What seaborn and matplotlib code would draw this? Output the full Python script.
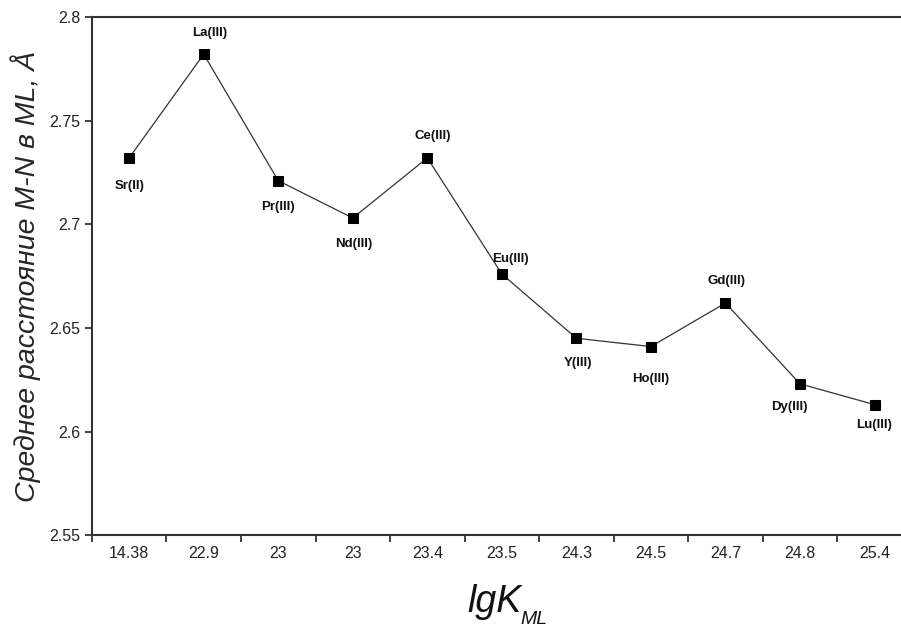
import numpy as np
import pandas as pd
import seaborn as sns
import matplotlib.pyplot as plt
from matplotlib.ticker import FixedLocator

lgk = ['14.38', '22.9', '23', '23', '23.4', '23.5', '24.3', '24.5', '24.7', '24.8', '25.4']
ions = ['Sr(II)', 'La(III)', 'Pr(III)', 'Nd(III)', 'Ce(III)', 'Eu(III)',
        'Y(III)', 'Ho(III)', 'Gd(III)', 'Dy(III)', 'Lu(III)']
dist = [2.732, 2.782, 2.721, 2.703, 2.732, 2.676, 2.645, 2.641, 2.662, 2.623, 2.613]
# label offsets (points) relative to each marker
lab_dx = [0, 4, 0, 1, 4, 6, 1, 0, 1, -8, 0]
lab_dy = [-20, 15, -19, -19, 16, 11, -18, -23, 16, -17, -15]

sns.set_style('white')
plt.rcParams['font.family'] = ['Liberation Sans', 'DejaVu Sans']

df = pd.DataFrame({'pos': np.arange(len(lgk)), 'dist': dist})

fig = plt.figure(figsize=(9.01, 6.26), dpi=100)
ax = fig.add_axes([0.102, 0.145, 0.91, 0.828])

sns.lineplot(data=df, x='pos', y='dist', ax=ax, color='#333333', linewidth=0.9,
             marker='s', markersize=7.5, markerfacecolor='black',
             markeredgecolor='black')

for i in range(len(ions)):
    ax.annotate(ions[i], (i, dist[i]), xytext=(lab_dx[i], lab_dy[i]),
                textcoords='offset points', ha='center', va='center',
                fontsize=9.5, fontweight='bold', color='#111111')

ax.set_xlim(-0.5, len(lgk) - 0.5)
ax.set_ylim(2.55, 2.8)
ax.set_yticks([2.55, 2.6, 2.65, 2.7, 2.75, 2.8])
ax.set_yticklabels(['2.55', '2.6', '2.65', '2.7', '2.75', '2.8'])

ax.set_xticks(np.arange(len(lgk)))
ax.set_xticklabels(lgk)
ax.xaxis.set_minor_locator(FixedLocator(np.arange(len(lgk) + 1) - 0.5))
ax.tick_params(axis='x', which='major', length=0, pad=8, labelsize=11.5, labelcolor='#222222')
ax.tick_params(axis='x', which='minor', length=5, width=1.2, direction='out',
               color='#222222', bottom=True)
ax.tick_params(axis='y', which='major', length=5, width=1.2, direction='out',
               left=True, labelsize=11.5, labelcolor='#222222', color='#222222')

for s in ax.spines.values():
    s.set_color('#333333')
    s.set_linewidth(1.5)
ax.spines['right'].set_visible(False)

ax.set_ylabel('Среднее расстояние M-N в ML, Å', fontsize=20.5, fontstyle='italic',
              labelpad=6)
ax.set_xlabel('')

# x label: lgK with subscript ML
fig.text(0.519, 0.0224, 'lgK', fontsize=27, fontstyle='italic', color='#111111',
         ha='left', va='baseline')
fig.text(0.578, 0.0035, 'ML', fontsize=14, fontstyle='italic', color='#111111',
         ha='left', va='baseline')

fig.savefig('out.png', dpi=100)
